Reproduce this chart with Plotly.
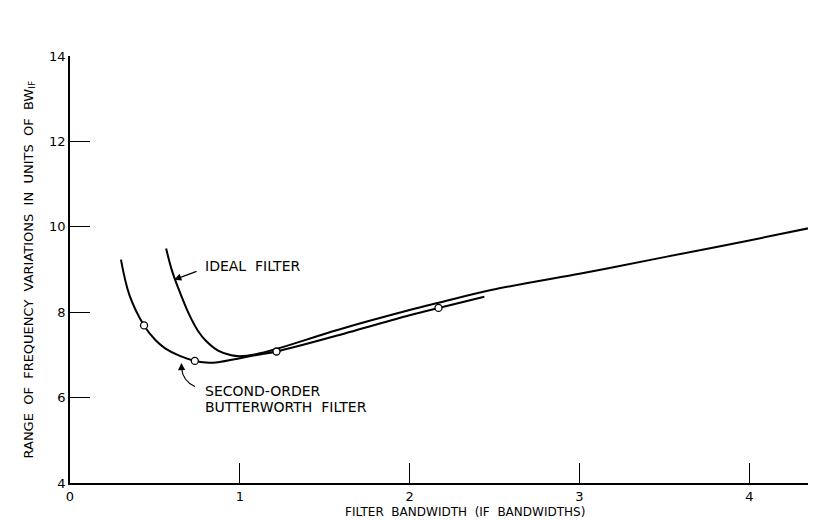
import plotly.graph_objects as go

# Ideal filter curve
ideal_x = [0.566, 0.60, 0.636, 0.70, 0.754, 0.80, 0.872, 0.95, 1.00, 1.10, 1.216, 1.58, 2.00, 2.17, 2.48, 3.00, 3.17, 3.50, 4.00, 4.44]
ideal_y = [9.49, 8.98, 8.58, 7.96, 7.56, 7.33, 7.10, 6.99, 6.97, 7.02, 7.14, 7.59, 8.05, 8.22, 8.52, 8.90, 9.03, 9.29, 9.68, 10.04]

# Second-order Butterworth filter curve
bw_x = [0.30, 0.35, 0.436, 0.50, 0.558, 0.65, 0.735, 0.80, 0.872, 1.00, 1.10, 1.216, 1.58, 2.00, 2.17, 2.44]
bw_y = [9.23, 8.40, 7.69, 7.36, 7.16, 6.97, 6.86, 6.82, 6.83, 6.92, 7.00, 7.08, 7.46, 7.93, 8.10, 8.36]

# Computed points (open circles)
pts_x = [0.436, 0.735, 1.216, 2.17]
pts_y = [7.69, 6.86, 7.08, 8.10]

x_ticks = [0, 1, 2, 3, 4]
y_ticks = [4, 6, 8, 10, 12, 14]

FONT = "DejaVu Sans"

fig = go.Figure()
fig.add_trace(go.Scatter(x=ideal_x, y=ideal_y, mode="lines", line=dict(color="black", width=2, shape="spline", smoothing=1.0), showlegend=False, hoverinfo="skip"))
fig.add_trace(go.Scatter(x=bw_x, y=bw_y, mode="lines", line=dict(color="black", width=2, shape="spline", smoothing=1.0), showlegend=False, hoverinfo="skip"))
fig.add_trace(go.Scatter(x=pts_x, y=pts_y, mode="markers", marker=dict(symbol="circle", size=7, color="white", line=dict(color="black", width=1.3)), showlegend=False, hoverinfo="skip"))

# Curved arrow for Butterworth label
fig.add_shape(type="path", path="M 0.735,6.26 Q 0.662,6.40 0.657,6.70", xref="x", yref="y", line=dict(color="black", width=1.2))
fig.add_annotation(x=0.656, y=6.81, ax=0.657, ay=6.66, xref="x", yref="y", axref="x", ayref="y", text="", showarrow=True, arrowhead=2, arrowsize=1.2, arrowwidth=1.2, arrowcolor="black")

# Ideal filter arrow and label
fig.add_annotation(x=0.613, y=8.76, ax=0.754, ay=8.97, xref="x", yref="y", axref="x", ayref="y", text="", showarrow=True, arrowhead=2, arrowsize=1.2, arrowwidth=1.2, arrowcolor="black")
fig.add_annotation(x=0.784, y=9.08, xref="x", yref="y", text="IDEAL  FILTER", showarrow=False, xanchor="left", yanchor="middle", font=dict(family=FONT, size=14, color="black"))
fig.add_annotation(x=0.784, y=6.15, xref="x", yref="y", text="SECOND-ORDER", showarrow=False, xanchor="left", yanchor="middle", font=dict(family=FONT, size=14, color="black"))
fig.add_annotation(x=0.784, y=5.78, xref="x", yref="y", text="BUTTERWORTH  FILTER", showarrow=False, xanchor="left", yanchor="middle", font=dict(family=FONT, size=14, color="black"))

# Axis titles
fig.add_annotation(x=(457 - 62) / 754, y=0, xref="paper", yref="paper", yshift=-29, text="FILTER  BANDWIDTH  (IF  BANDWIDTHS)", showarrow=False, xanchor="center", yanchor="middle", font=dict(family=FONT, size=12, color="black"))
fig.add_annotation(x=0, y=0.5, xref="paper", yref="paper", xshift=-41, text="RANGE  OF  FREQUENCY  VARIATIONS  IN  UNITS  OF  BW<sub>IF</sub>", textangle=-90, showarrow=False, xanchor="center", yanchor="middle", font=dict(family=FONT, size=13, color="black"))

fig.update_layout(
    width=816, height=520,
    margin=dict(l=62, r=0, t=48, b=45),
    paper_bgcolor="white", plot_bgcolor="white",
    font=dict(family=FONT, color="black", size=12),
)
fig.update_xaxes(
    range=[0, 4.44], tickvals=x_ticks, ticktext=[str(v) for v in x_ticks],
    ticks="inside", ticklen=20, tickwidth=1.2, tickcolor="black",
    showline=True, linecolor="black", linewidth=1.8, showgrid=False, zeroline=False,
    tickfont=dict(family=FONT, size=13),
)
fig.update_yaxes(
    range=[4, 14], tickvals=y_ticks, ticktext=[str(v) for v in y_ticks],
    ticks="inside", ticklen=20, tickwidth=1.2, tickcolor="black",
    showline=True, linecolor="black", linewidth=1.8, showgrid=False, zeroline=False,
    tickfont=dict(family=FONT, size=13),
)

fig.write_html("out.html")
